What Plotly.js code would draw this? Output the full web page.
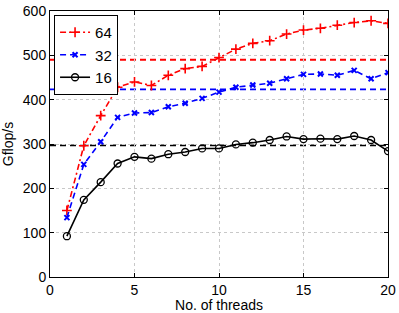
<!DOCTYPE html>
<html><head><meta charset="utf-8">
<script src="https://cdn.plot.ly/plotly-3.0.1.min.js"></script>
<style>html,body{margin:0;padding:0;background:#fff}</style>
</head><body>
<div id="chart" style="width:399px;height:313px"></div>
<script>
const threads = [1,2,3,4,5,6,7,8,9,10,11,12,13,14,15,16,17,18,19,20];
const gflops64 = [150,296,364,428,440,432,455,470,475,495,514,527,533,548,557,561,568,574,578,572];
const gflops32 = [134,254,305,360,370,371,384,392,403,417,428,433,437,447,457,458,455,466,447,461];
const gflops16 = [92,174,214,256,271,267,277,282,290,290,299,303,309,317,311,312,311,318,309,284];
const ref64 = 490;
const ref32 = 423;
const ref16 = 297;
const seriesNames = ['64','32','16'];

const font = {family:'Liberation Sans, Arial, sans-serif', size:14, color:'#000'};
const traces = [
  {x:threads, y:gflops64, name:seriesNames[0], mode:'lines+markers',
   line:{color:'#ff0000', width:1.6, dash:'6px,3px,2px,3px'},
   marker:{symbol:'cross-thin-open', size:7, color:'#ff0000', line:{color:'#ff0000', width:1.6}}},
  {x:threads, y:gflops32, name:seriesNames[1], mode:'lines+markers',
   line:{color:'#0000ff', width:1.6, dash:'6px,4px'},
   marker:{symbol:'x-thin-open', size:5, color:'#0000ff', line:{color:'#0000ff', width:2}}},
  {x:threads, y:gflops16, name:seriesNames[2], mode:'lines+markers',
   line:{color:'#000000', width:1.6},
   marker:{symbol:'circle-open', size:7, color:'#000000', line:{color:'#000000', width:1.3}}}
];
const hline = (y,c) => ({type:'line', xref:'paper', x0:0, x1:1, yref:'y', y0:y, y1:y,
   line:{color:c, width:1.8, dash:'6px,4px'}, layer:'below'});
const layout = {
  width:399, height:313,
  margin:{l:50, r:11, t:11, b:36},
  paper_bgcolor:'#fff', plot_bgcolor:'#fff',
  font:font,
  showlegend:true,
  legend:{x:0.012, y:0.985, xanchor:'left', yanchor:'top', bgcolor:'#fff',
    bordercolor:'#000', borderwidth:1, font:{family:font.family, size:15},
    tracegroupgap:0, itemwidth:30},
  xaxis:{range:[0,20], tickvals:[0,5,10,15,20], showgrid:true, gridcolor:'#c8c8c8',
    griddash:'dot', gridwidth:1, zeroline:false, showline:true, linecolor:'#000', linewidth:1,
    mirror:'ticks', ticks:'inside', ticklen:4, tickcolor:'#000',
    title:{text:'No. of threads', font:{family:font.family, size:14}, standoff:1}},
  yaxis:{range:[0,600], tickvals:[0,100,200,300,400,500,600], showgrid:true, gridcolor:'#c8c8c8',
    griddash:'dot', gridwidth:1, zeroline:false, showline:true, linecolor:'#000', linewidth:1,
    mirror:'ticks', ticks:'inside', ticklen:4, tickcolor:'#000',
    title:{text:'Gflop/s', font:{family:font.family, size:14}, standoff:6}},
  shapes:[hline(ref64,'#ff0000'), hline(ref32,'#0000ff'), hline(ref16,'#000000')]
};
Plotly.newPlot('chart', traces, layout, {displayModeBar:false, staticPlot:true});
</script>
</body></html>
